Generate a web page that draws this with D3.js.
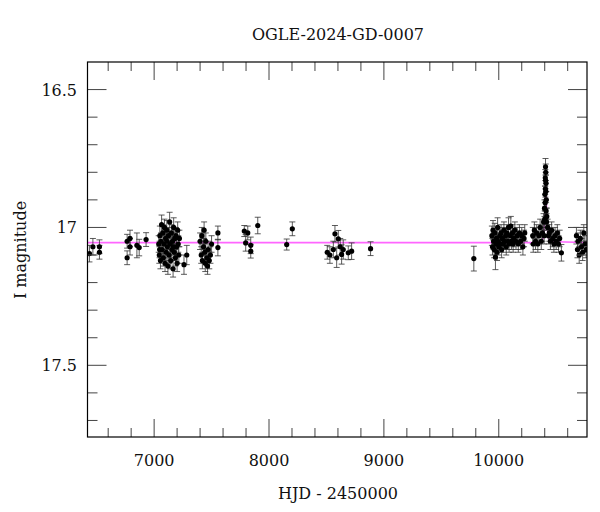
<!DOCTYPE html>
<html>
<head>
<meta charset="utf-8">
<script src="https://cdn.jsdelivr.net/npm/d3@7"></script>
<style>
body { margin: 0; background: #fff; }
text { font-family: "DejaVu Serif", serif; fill: #111; }
</style>
</head>
<body>
<script>
// observations per season: [HJD-2450000, I mag, error]
var season1 = [[6437,17.095,0.03],[6467,17.07,0.03],[6524,17.07,0.025],[6524,17.09,0.025],
  [6765,17.11,0.025],[6765,17.05,0.025],[6790,17.04,0.03],[6790,17.07,0.03],[6850,17.065,0.045],[6870,17.073,0.03],[6930,17.044,0.025]];
var season2 = [[7040,17.06,0.03],[7045,17.10,0.03],[7050,17.03,0.035],[7055,17.12,0.03],[7060,17.05,0.03],[7065,16.99,0.035],
  [7070,17.08,0.03],[7075,17.02,0.03],[7080,17.11,0.03],[7085,17.06,0.035],[7090,17.00,0.03],[7095,17.13,0.03],
  [7100,17.04,0.03],[7105,17.09,0.03],[7110,17.01,0.035],[7115,17.07,0.03],[7120,17.14,0.03],[7125,17.03,0.03],
  [7130,17.10,0.03],[7135,16.98,0.035],[7140,17.06,0.03],[7145,17.12,0.03],[7150,17.02,0.03],[7155,17.08,0.03],
  [7160,17.05,0.03],[7165,17.15,0.03],[7170,17.00,0.035],[7175,17.09,0.03],[7180,17.04,0.03],[7185,17.11,0.03],
  [7190,17.03,0.03],[7195,17.07,0.03],[7200,17.13,0.03],[7205,17.01,0.03],[7210,17.06,0.03],[7215,17.10,0.03],
  [7220,17.04,0.03],[7048,17.08,0.03],[7112,17.05,0.03],[7168,17.07,0.03],[7260,17.135,0.035],[7284,17.10,0.035]];
var season3 = [[7400,17.05,0.03],[7410,17.10,0.03],[7415,17.03,0.03],[7420,17.12,0.03],[7430,17.07,0.03],[7435,17.01,0.03],
  [7440,17.09,0.03],[7445,17.13,0.03],[7450,17.05,0.03],[7460,17.11,0.03],[7465,17.14,0.03],[7470,17.08,0.03],
  [7480,17.12,0.03],[7490,17.10,0.03],[7500,17.06,0.03],[7555,17.02,0.025],[7555,17.073,0.03]];
var season4 = [[7785,17.013,0.02],[7815,17.02,0.025],[7797,17.056,0.03],[7841,17.086,0.025],[7841,17.065,0.03],
  [7902,16.993,0.03],[8154,17.062,0.02],[8203,17.005,0.025]];
var season5 = [[8507,17.09,0.025],[8530,17.10,0.03],[8560,17.08,0.03],[8574,17.023,0.03],[8589,17.11,0.035],
  [8603,17.041,0.03],[8620,17.07,0.03],[8632,17.098,0.035],[8646,17.08,0.035],[8690,17.092,0.025],[8719,17.086,0.03],[8884,17.077,0.025]];
var season6 = [[9783,17.113,0.045],[9971,17.108,0.045],
  [9940,17.03,0.035],[9945,17.07,0.03],[9950,17.01,0.035],[9955,17.05,0.03],[9960,17.08,0.03],[9965,17.02,0.035],
  [9975,17.06,0.03],[9980,17.04,0.03],[9985,17.09,0.03],[9990,17.00,0.035],[9995,17.05,0.03],[10000,17.07,0.03],
  [10010,17.03,0.03],[10015,17.06,0.03],[10020,17.02,0.03],[10025,17.08,0.03],[10030,17.04,0.03],[10040,17.06,0.03],
  [10045,17.01,0.03],[10050,17.05,0.03],[10060,17.03,0.03],[10065,17.07,0.03],[10070,17.02,0.03],[10080,17.05,0.03],
  [10085,17.00,0.035],[10090,17.06,0.03],[10100,17.03,0.03],[10105,16.995,0.035],[10110,17.05,0.03],[10120,17.02,0.03],
  [10125,17.06,0.03],[10130,17.04,0.03],[10140,17.01,0.03],[10150,17.05,0.03],[10160,17.03,0.03],[10170,17.06,0.03],
  [10180,17.02,0.03],[10190,17.05,0.03],[10200,17.03,0.03],[10210,17.07,0.03],[10220,17.04,0.03],[10226,17.02,0.03]];
var season7 = [[10296,17.03,0.03],[10300,17.06,0.03],[10310,17.01,0.03],[10320,17.05,0.03],[10330,17.02,0.03],[10340,17.06,0.03],
  [10350,17.03,0.03],[10360,17.00,0.03],[10370,17.05,0.03],[10380,17.02,0.03],[10390,16.98,0.03],[10395,17.03,0.03],
  [10398,16.93,0.03],[10400,16.97,0.03],[10402,16.88,0.03],[10404,16.91,0.03],[10405,16.82,0.03],[10406,16.86,0.03],
  [10407,16.78,0.03],[10408,16.83,0.03],[10409,16.80,0.03],[10410,16.87,0.03],[10411,16.84,0.03],[10412,16.94,0.03],
  [10414,16.90,0.03],[10416,16.98,0.03],[10418,16.96,0.03],[10425,17.00,0.03],[10432,17.03,0.03],[10440,17.02,0.03],[10450,17.05,0.03],
  [10460,17.01,0.03],[10470,17.04,0.03],[10480,17.06,0.03],[10490,17.03,0.03],[10500,17.05,0.03],[10510,17.02,0.03],
  [10520,17.06,0.03],[10530,17.04,0.03],[10545,17.092,0.03],
  [10676,17.03,0.03],[10685,17.08,0.03],[10690,17.05,0.03],[10700,17.10,0.03],[10710,17.04,0.03],[10720,17.07,0.03],
  [10730,17.09,0.03],[10740,17.02,0.03],[10750,17.06,0.03],[10760,17.08,0.03]];
// fitted model curve
var modelT   = [6420, 10300, 10370, 10385, 10395, 10402, 10409, 10416, 10423, 10433, 10448, 10770];
var modelMag = [17.055,17.055,17.05, 17.04, 17.0,  16.93, 16.83, 16.93, 17.0,  17.04, 17.05, 17.055];

var data = [].concat(season1, season2, season3, season4, season5, season6, season7);

var W = 600, H = 512, L = 87.5, R = 587, T = 62, B = 437;
var svg = d3.select("body").append("svg").attr("width", W).attr("height", H);
var x = d3.scaleLinear().domain([6420, 10768]).range([L, R]);
var y = d3.scaleLinear().domain([16.4, 17.76]).range([T, B]);

svg.append("clipPath").attr("id", "c").append("rect").attr("x", L).attr("y", T).attr("width", R - L).attr("height", B - T);
var g = svg.append("g").attr("clip-path", "url(#c)");

// model line
g.append("path").datum(d3.range(modelT.length))
  .attr("d", d3.line().curve(d3.curveMonotoneX).x(function(i){ return x(modelT[i]); }).y(function(i){ return y(modelMag[i]); }))
  .attr("fill", "none").attr("stroke", "#ff66ff").attr("stroke-width", 1.6);

// error bars
var eb = g.selectAll(".eb").data(data).enter().append("g").attr("stroke", "#333").attr("stroke-width", 1).attr("stroke-opacity", 0.8);
eb.append("line").attr("x1", function(d){ return x(d[0]); }).attr("x2", function(d){ return x(d[0]); })
  .attr("y1", function(d){ return y(d[1] - d[2]); }).attr("y2", function(d){ return y(d[1] + d[2]); });
[-1, 1].forEach(function(s){
  eb.append("line").attr("x1", function(d){ return x(d[0]) - 3; }).attr("x2", function(d){ return x(d[0]) + 3; })
    .attr("y1", function(d){ return y(d[1] + s * d[2]); }).attr("y2", function(d){ return y(d[1] + s * d[2]); });
});
g.selectAll(".pt").data(data).enter().append("circle")
  .attr("cx", function(d){ return x(d[0]); }).attr("cy", function(d){ return y(d[1]); })
  .attr("r", 2.6).attr("fill", "#000");

// ticks on all four sides
var xMinor = d3.range(6600, 10800, 200), yMinor = d3.range(16.5, 17.76, 0.1);
xMinor.forEach(function(t){
  var len = (Math.round(t) % 1000 === 0) ? 18 : 9;
  svg.append("line").attr("x1", x(t)).attr("x2", x(t)).attr("y1", B).attr("y2", B - len).attr("stroke", "#444");
  svg.append("line").attr("x1", x(t)).attr("x2", x(t)).attr("y1", T).attr("y2", T + len).attr("stroke", "#444");
});
yMinor.forEach(function(m){
  var major = Math.abs(m * 2 - Math.round(m * 2)) < 1e-6, len = major ? 19 : 10;
  svg.append("line").attr("x1", L).attr("x2", L + len).attr("y1", y(m)).attr("y2", y(m)).attr("stroke", "#444");
  svg.append("line").attr("x1", R).attr("x2", R - len).attr("y1", y(m)).attr("y2", y(m)).attr("stroke", "#444");
});
svg.append("rect").attr("x", L).attr("y", T).attr("width", R - L).attr("height", B - T)
  .attr("fill", "none").attr("stroke", "#000").attr("stroke-width", 1.2);

var xLabels = [7000, 8000, 9000, 10000], yLabels = [16.5, 17, 17.5];
svg.selectAll(".xl").data(xLabels).enter().append("text")
  .attr("x", function(d){ return x(d); }).attr("y", 466).attr("text-anchor", "middle").attr("font-size", 16).text(String);
svg.selectAll(".yl").data(yLabels).enter().append("text")
  .attr("x", 77).attr("y", function(d){ return y(d) + 6; }).attr("text-anchor", "end").attr("font-size", 16).text(String);

svg.append("text").attr("x", 338).attr("y", 499).attr("text-anchor", "middle").attr("font-size", 16).text("HJD - 2450000");
svg.append("text").attr("transform", "translate(26,250) rotate(-90)").attr("text-anchor", "middle").attr("font-size", 16).text("I magnitude");
svg.append("text").attr("x", 338).attr("y", 40).attr("text-anchor", "middle").attr("font-size", 16).text("OGLE-2024-GD-0007");
</script>
</body>
</html>
